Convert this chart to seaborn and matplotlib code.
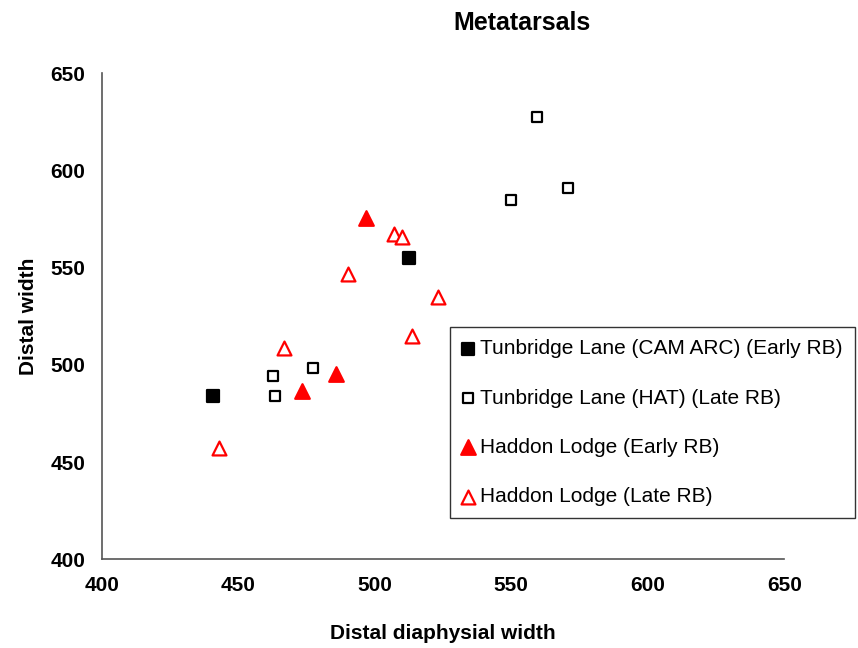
import matplotlib
matplotlib.use("Agg")
import matplotlib.pyplot as plt
import seaborn as sns
import pandas as pd

# Data
tl_camarc_x = [440.8, 512.6]
tl_camarc_y = [483.9, 555.0]
tl_hat_x = [559.5, 570.6, 549.8, 462.7, 463.4, 477.4]
tl_hat_y = [627.7, 590.9, 584.6, 494.2, 483.9, 498.3]
hl_early_x = [496.8, 473.3, 485.8]
hl_early_y = [575.5, 486.5, 495.5]
hl_late_x = [506.9, 510.0, 490.2, 523.3, 513.6, 466.6, 443.1]
hl_late_y = [567.5, 565.6, 546.9, 534.8, 515.1, 508.7, 457.4]

labels = ["Tunbridge Lane (CAM ARC) (Early RB)",
          "Tunbridge Lane (HAT) (Late RB)",
          "Haddon Lodge (Early RB)",
          "Haddon Lodge (Late RB)"]
x_ticks = [400, 450, 500, 550, 600, 650]
y_ticks = [400, 450, 500, 550, 600, 650]

sns.set_style("white")
plt.rcParams['font.family'] = ['Liberation Sans', 'DejaVu Sans']
plt.rcParams['text.color'] = 'black'
plt.rcParams['axes.labelcolor'] = 'black'
plt.rcParams['xtick.color'] = 'black'
plt.rcParams['ytick.color'] = 'black'

fig = plt.figure(figsize=(8.58, 6.48), dpi=100)
ax = fig.add_axes([101.7/858, (648-559.3)/648, (784.3-101.7)/858, (559.3-73.3)/648])

series = [
    (tl_camarc_x, tl_camarc_y, "s", "black", "black", 64),
    (tl_hat_x, tl_hat_y, "s", "white", "black", 58),
    (hl_early_x, hl_early_y, "^", "red", "red", 110),
    (hl_late_x, hl_late_y, "^", "white", "red", 100),
]
for (xs, ys, m, fc, ec, s), lab in zip(series, labels):
    df = pd.DataFrame({"x": xs, "y": ys})
    sns.scatterplot(data=df, x="x", y="y", marker=m, s=s, facecolor=fc,
                    edgecolor=ec, linewidth=1.6, ax=ax, label=lab, zorder=3)

ax.set_xlim(400, 650)
ax.set_ylim(400, 650)
ax.set_xticks(x_ticks)
ax.set_yticks(y_ticks)
ax.tick_params(axis="both", which="both", direction="out", length=5, width=1,
               color="#555555", labelcolor="black", labelsize=15, pad=7)
for lab in ax.get_xticklabels() + ax.get_yticklabels():
    lab.set_fontweight("bold")
for sp in ["top", "right"]:
    ax.spines[sp].set_visible(False)
for sp in ["left", "bottom"]:
    ax.spines[sp].set_color("#555555")
    ax.spines[sp].set_linewidth(1.2)

ax.set_xlabel("Distal diaphysial width", fontsize=15, fontweight="bold",
              labelpad=21, color="black")
ax.set_ylabel("Distal width", fontsize=15, fontweight="bold", labelpad=9,
              color="black")

fig.text(522/858, 1 - 23/648, "Metatarsals", ha="center", va="center",
         fontsize=18, fontweight="bold", color="black")

leg = ax.legend(loc="lower left", bbox_to_anchor=(450/858, 130/648),
                bbox_transform=fig.transFigure, frameon=True, fancybox=False,
                fontsize=15, labelspacing=1.46, handletextpad=0.3,
                handlelength=0.6, borderpad=0.56, borderaxespad=0)
leg.get_frame().set_edgecolor("black")
leg.get_frame().set_linewidth(1.0)
for t in leg.get_texts():
    t.set_color("black")

fig.savefig("out.png", dpi=100)
